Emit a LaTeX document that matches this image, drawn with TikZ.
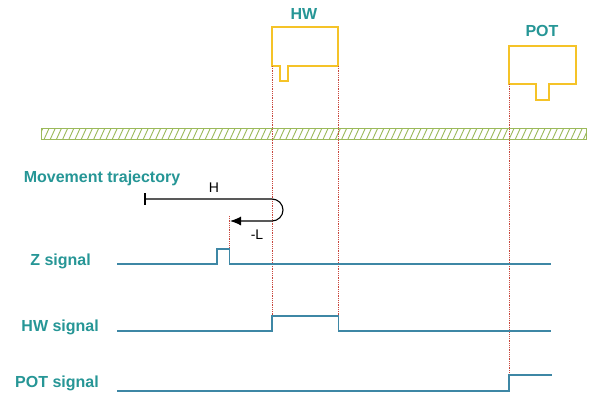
\documentclass[tikz,border=0pt]{standalone}
\usepackage{fontspec}
\setmainfont{Liberation Sans}
\usepackage{xcolor}
\usepackage{tikz}
\usetikzlibrary{arrows.meta,positioning}

\definecolor{labelteal}{RGB}{38,150,150}
\definecolor{sigblue}{RGB}{62,135,165}
\definecolor{switchyellow}{RGB}{245,195,40}
\definecolor{guidered}{RGB}{200,70,60}
\definecolor{railgreen}{RGB}{155,185,90}

\tikzset{
  sigtext/.style={font=\fontsize{16}{19}\selectfont\bfseries, text=labelteal, inner sep=0pt},
  sigline/.style={draw=sigblue, line width=1.3pt},
  switchbox/.style={draw=switchyellow, line width=2pt},
  guide/.style={draw=guidered, densely dotted, line width=0.8pt},
  movetext/.style={font=\fontsize{14}{16}\selectfont, inner sep=0pt}
}

\begin{document}
\begin{tikzpicture}[x=1pt,y=-1pt]
    \useasboundingbox[fill=white] (0,0) rectangle (600,405);
    % Rail
    \begin{scope}
        \clip (41,128) rectangle (586,139);
        \foreach \x in {38,44.2,...,590}
            \draw[railgreen, line width=0.9pt] (\x,139) -- (\x+5,128);
    \end{scope}
    \draw[railgreen, line width=0.8pt] (41,128) rectangle (586,139);
    % Switches
    \draw[switchbox] (272,66) -- (272,27) -- (338,27) -- (338,66) -- (288,66)
        -- (288,81) -- (280,81) -- (280,66) -- cycle;
    \draw[switchbox] (509,84) -- (509,46) -- (576,46) -- (576,84) -- (549,84)
        -- (549,100) -- (536,100) -- (536,84) -- cycle;
    \node[sigtext] (hw) at (304,14) {HW};
    \node[sigtext] (pot) at (542,31) {POT};
    % Guide lines
    \coordinate (hwon) at (272,66);
    \coordinate (hwoff) at (338.5,66);
    \coordinate (poton) at (509,84);
    \coordinate (zedge) at (229.5,216);
    \draw[guide] (hwon) -- (272,316);
    \draw[guide] (hwoff) -- (338.5,316);
    \draw[guide] (poton) -- (509,375);
    \draw[guide] (zedge) -- (229.5,249);
    % Movement trajectory
    \node[sigtext] (traj) at (102,178) {Movement trajectory};
    \coordinate (start) at (145,199);
    \coordinate (stop) at (230,221);
    \draw[line width=1.1pt] (145,193) -- (145,205);
    \draw[line width=1.1pt, -{Latex[length=11pt,width=9pt]}] (start) -- (272,199)
        arc[start angle=-90, end angle=90, radius=11] -- (stop);
    \node[movetext] (high) at (214,188) {H};
    \node[movetext] (low) at (257,235) {-L};
    % Signals
    \node[sigtext, anchor=east] (zsig) at (91,261) {Z signal};
    \node[sigtext, anchor=east] (hwsig) at (99,327) {HW signal};
    \node[sigtext, anchor=east] (potsig) at (99,383) {POT signal};
    \draw[sigline] (117,264) -- (217,264) -- (217,249) -- (229.5,249)
        -- (229.5,264) -- (551,264);
    \draw[sigline] (117,331) -- (272,331) -- (272,316) -- (338.5,316)
        -- (338.5,331) -- (551,331);
    \draw[sigline] (117,391) -- (509,391) -- (509,375) -- (552,375);
\end{tikzpicture}
\end{document}
